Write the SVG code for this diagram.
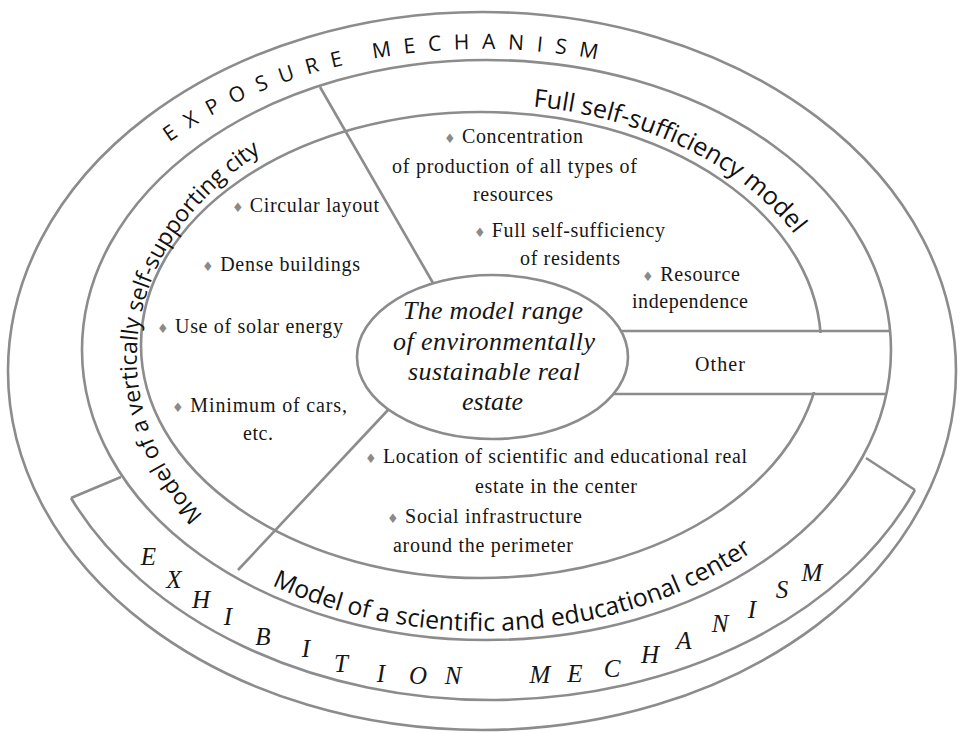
<svg xmlns="http://www.w3.org/2000/svg" width="965" height="733" viewBox="0 0 965 733">
  <defs>
    <style>
      .ln{fill:none;stroke:#8c8c8c;stroke-width:2.6}
      .sans{font-family:"Open Sans","Noto Sans","DejaVu Sans",sans-serif;fill:#111}
      .ser{font-family:"Liberation Serif","Times New Roman",serif;font-size:20px;fill:#161616}
      .it{font-family:"Liberation Serif","Times New Roman",serif;font-style:italic;font-size:26px;fill:#161616;text-anchor:middle}
      .bul{font-family:"DejaVu Sans",sans-serif;font-size:13px;fill:#8a8a8a}
      .exh{font-family:"Liberation Serif","Times New Roman",serif;font-style:italic;font-size:25px;fill:#161616;text-anchor:middle}
    </style>
    <!-- baselines for the curved labels -->
    <path id="arcExposure" d="M163,147.2 A433,301 0 0 1 612.9,62.8"/>
    <path id="arcFull" d="M533,106.5 A353,246 0 0 1 818.4,273.2"/>
    <path id="arcCity" d="M203,515.4 A346.3,267.5 0 0 1 292.5,134.6"/>
    <path id="arcSci" d="M272,585.3 A386,281 0 0 0 778.7,530.7"/>
  </defs>

  <rect width="965" height="733" fill="#fff"/>

  <!-- rings -->
  <g id="rings">
    <ellipse class="ln" cx="482" cy="371" rx="474" ry="359"/>
    <ellipse class="ln" cx="486.5" cy="350" rx="404.5" ry="290"/>
    <ellipse class="ln" cx="481" cy="345" rx="340" ry="233"/>
    <!-- gap in the inner ring where the "Other" band passes -->
    <rect x="780" y="333" width="60" height="59" fill="#fff"/>
  </g>

  <!-- outer band: exposure mechanism -->
  <g id="exposure-mechanism">
    <text class="sans" font-size="21" letter-spacing="12.5"><textPath href="#arcExposure" startOffset="8">EXPOSURE MECHANISM</textPath></text>
  </g>

  <!-- lower band: exhibition mechanism -->
  <g id="exhibition-mechanism">
    <path class="ln" d="M71,498 A460,342 0 0 0 915,490"/>
    <text class="exh" x="148.5" y="565">E</text>
    <text class="exh" x="174" y="588">X</text>
    <text class="exh" x="201" y="608">H</text>
    <text class="exh" x="228" y="625">I</text>
    <text class="exh" x="263" y="645">B</text>
    <text class="exh" x="306" y="657">I</text>
    <text class="exh" x="341" y="672">T</text>
    <text class="exh" x="381" y="682">I</text>
    <text class="exh" x="418" y="684">O</text>
    <text class="exh" x="453" y="684">N</text>
    <text class="exh" x="540" y="683">M</text>
    <text class="exh" x="575" y="682">E</text>
    <text class="exh" x="612" y="677">C</text>
    <text class="exh" x="650" y="663">H</text>
    <text class="exh" x="684" y="649">A</text>
    <text class="exh" x="720" y="632">N</text>
    <text class="exh" x="752" y="618">I</text>
    <text class="exh" x="782" y="598">S</text>
    <text class="exh" x="812" y="581">M</text>
  </g>

  <!-- sector: vertically self-supporting city -->
  <g id="node-vertical-city">
    <text class="sans" font-size="23"><textPath href="#arcCity">Model of a vertically self-supporting city</textPath></text>
    <text class="ser" x="232" y="212" textLength="147" lengthAdjust="spacing"><tspan class="bul">♦</tspan> Circular layout</text>
    <text class="ser" x="202" y="271" textLength="158" lengthAdjust="spacing"><tspan class="bul">♦</tspan> Dense buildings</text>
    <text class="ser" x="157" y="333" textLength="186" lengthAdjust="spacing"><tspan class="bul">♦</tspan> Use of solar energy</text>
    <text class="ser" x="172" y="412" textLength="175" lengthAdjust="spacing"><tspan class="bul">♦</tspan> Minimum of cars,</text>
    <text class="ser" x="243" y="440" textLength="30" lengthAdjust="spacing">etc.</text>
  </g>

  <!-- sector: full self-sufficiency -->
  <g id="node-full-self-sufficiency">
    <text class="sans" font-size="25"><textPath href="#arcFull">Full self-sufficiency model</textPath></text>
    <text class="ser" x="444" y="143" textLength="139" lengthAdjust="spacing"><tspan class="bul">♦</tspan> Concentration</text>
    <text class="ser" x="392" y="173" textLength="245" lengthAdjust="spacing">of production of all types of</text>
    <text class="ser" x="473" y="201" textLength="80" lengthAdjust="spacing">resources</text>
    <text class="ser" x="474" y="237" textLength="191" lengthAdjust="spacing"><tspan class="bul">♦</tspan> Full self-sufficiency</text>
    <text class="ser" x="520" y="265" textLength="100" lengthAdjust="spacing">of residents</text>
    <text class="ser" x="642" y="281" textLength="98" lengthAdjust="spacing"><tspan class="bul">♦</tspan> Resource</text>
    <text class="ser" x="632" y="308" textLength="116" lengthAdjust="spacing">independence</text>
  </g>

  <!-- sector: other -->
  <g id="node-other">
    <text class="ser" x="695" y="371" textLength="50" lengthAdjust="spacing">Other</text>
  </g>

  <!-- sector: scientific and educational center -->
  <g id="node-science-education">
    <text class="sans" font-size="24.8"><textPath href="#arcSci">Model of a scientific and educational center</textPath></text>
    <text class="ser" x="365" y="463" textLength="382" lengthAdjust="spacing"><tspan class="bul">♦</tspan> Location of scientific and educational real</text>
    <text class="ser" x="475" y="493" textLength="162" lengthAdjust="spacing">estate in the center</text>
    <text class="ser" x="387" y="523" textLength="195" lengthAdjust="spacing"><tspan class="bul">♦</tspan> Social infrastructure</text>
    <text class="ser" x="393" y="552" textLength="180" lengthAdjust="spacing">around the perimeter</text>
  </g>

  <!-- dividers and band edges -->
  <g id="connectors">
    <line class="ln" x1="320" y1="87" x2="433" y2="283"/>
    <line class="ln" x1="388" y1="410" x2="238" y2="570"/>
    <line class="ln" x1="621" y1="331" x2="890" y2="331"/>
    <line class="ln" x1="614" y1="394" x2="887" y2="394"/>
    <polyline class="ln" points="121,477 71,498"/>
    <polyline class="ln" points="866,458 915,490"/>
  </g>

  <!-- core -->
  <g id="node-core">
    <ellipse cx="492.5" cy="357" rx="135.5" ry="82" fill="#fff" stroke="#8c8c8c" stroke-width="2.6"/>
    <text class="it" x="493" y="319" textLength="180" lengthAdjust="spacing">The model range</text>
    <text class="it" x="494" y="350" textLength="202" lengthAdjust="spacing">of environmentally</text>
    <text class="it" x="494" y="380" textLength="172" lengthAdjust="spacing">sustainable real</text>
    <text class="it" x="492.5" y="410" textLength="61" lengthAdjust="spacing">estate</text>
  </g>
</svg>
